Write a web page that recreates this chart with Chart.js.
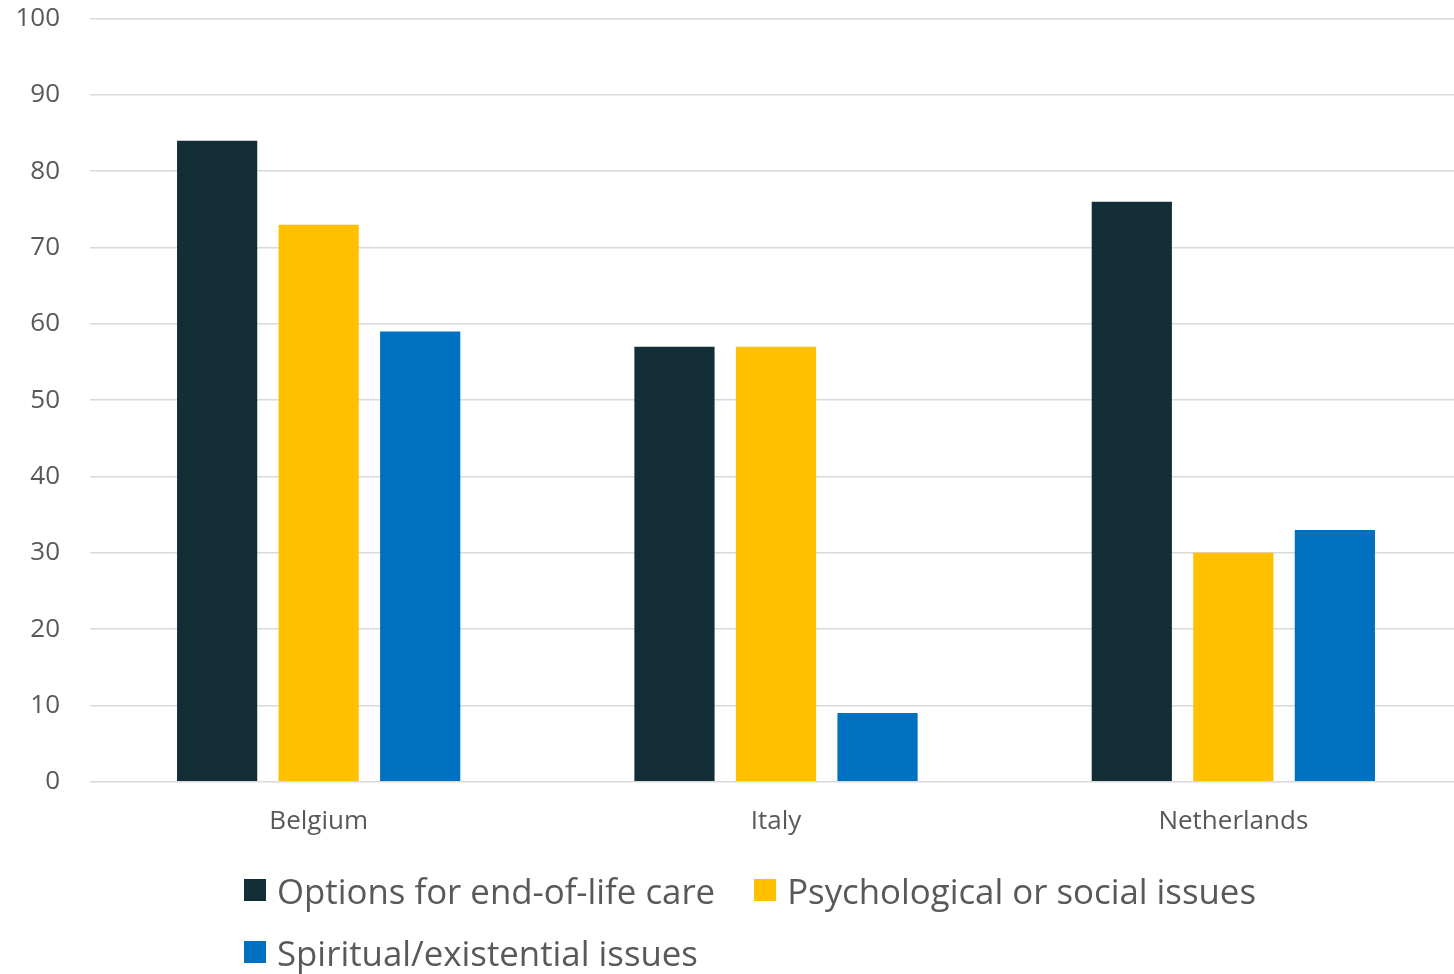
<!DOCTYPE html>
<html>
<head>
<meta charset="utf-8">
<script src="https://cdn.jsdelivr.net/npm/chart.js@4.4.1/dist/chart.umd.min.js"></script>
<style>
  html, body { margin: 0; padding: 0; background: #fff; overflow: hidden; }
  #wrap { position: relative; width: 1454px; height: 974px; overflow: hidden; }
  #chartBox { position: absolute; left: 0; top: -27px; width: 1462px; height: 902px; }
  #legend {
    position: absolute; left: 244px; top: 866px; width: 1060px;
    display: flex; flex-wrap: wrap; column-gap: 39px; row-gap: 14px;
    font-family: 'Open Sans', sans-serif; font-size: 34.8px; color: #595959;
  }
  .item { display: flex; align-items: center; height: 48px; }
  .swatch { width: 22px; height: 22px; margin-right: 11px; }
</style>
</head>
<body>
<div id="wrap">
  <div id="chartBox"><canvas id="chart"></canvas></div>
  <div id="legend"></div>
</div>
<script>
// Chart data
const countries = ['Belgium', 'Italy', 'Netherlands'];
const seriesNames = ['Options for end-of-life care', 'Psychological or social issues', 'Spiritual/existential issues'];
const endOfLifeCare = [84, 57, 76];
const psychSocial = [73, 57, 30];
const spiritual = [59, 9, 33];
const seriesColors = ['#132E37', '#FFC000', '#0070C0'];

const datasets = [endOfLifeCare, psychSocial, spiritual].map((values, i) => ({
    label: seriesNames[i],
    data: values,
    backgroundColor: seriesColors[i],
    borderWidth: 0,
    categoryPercentage: 0.666,
    barPercentage: 0.79
}));

const ctx = document.getElementById('chart').getContext('2d');
new Chart(ctx, {
    type: 'bar',
    data: { labels: countries, datasets: datasets },
    options: {
        responsive: true,
        maintainAspectRatio: false,
        animation: false,
        layout: { padding: { left: 14, top: 6, right: 0, bottom: 14 } },
        plugins: {
            legend: { display: false },
            tooltip: { enabled: false }
        },
        scales: {
            x: {
                grid: { display: false, drawTicks: false },
                border: { display: false },
                ticks: {
                    padding: 24,
                    color: '#595959',
                    font: { family: 'Open Sans', size: 26 }
                }
            },
            y: {
                min: 0,
                max: 100,
                afterFit: function(scale) { scale.width = 76; },
                grid: { color: '#d9d9d9', lineWidth: 1.5, drawTicks: false },
                border: { display: false },
                ticks: {
                    stepSize: 10,
                    padding: 30,
                    color: '#595959',
                    font: { family: 'Open Sans', size: 26 }
                }
            }
        }
    }
});

// Legend built from the same series arrays
const legend = document.getElementById('legend');
seriesNames.forEach((name, i) => {
    const item = document.createElement('div');
    item.className = 'item';
    const sw = document.createElement('span');
    sw.className = 'swatch';
    sw.style.background = seriesColors[i];
    const txt = document.createElement('span');
    txt.textContent = name;
    item.appendChild(sw);
    item.appendChild(txt);
    legend.appendChild(item);
});
</script>
</body>
</html>
